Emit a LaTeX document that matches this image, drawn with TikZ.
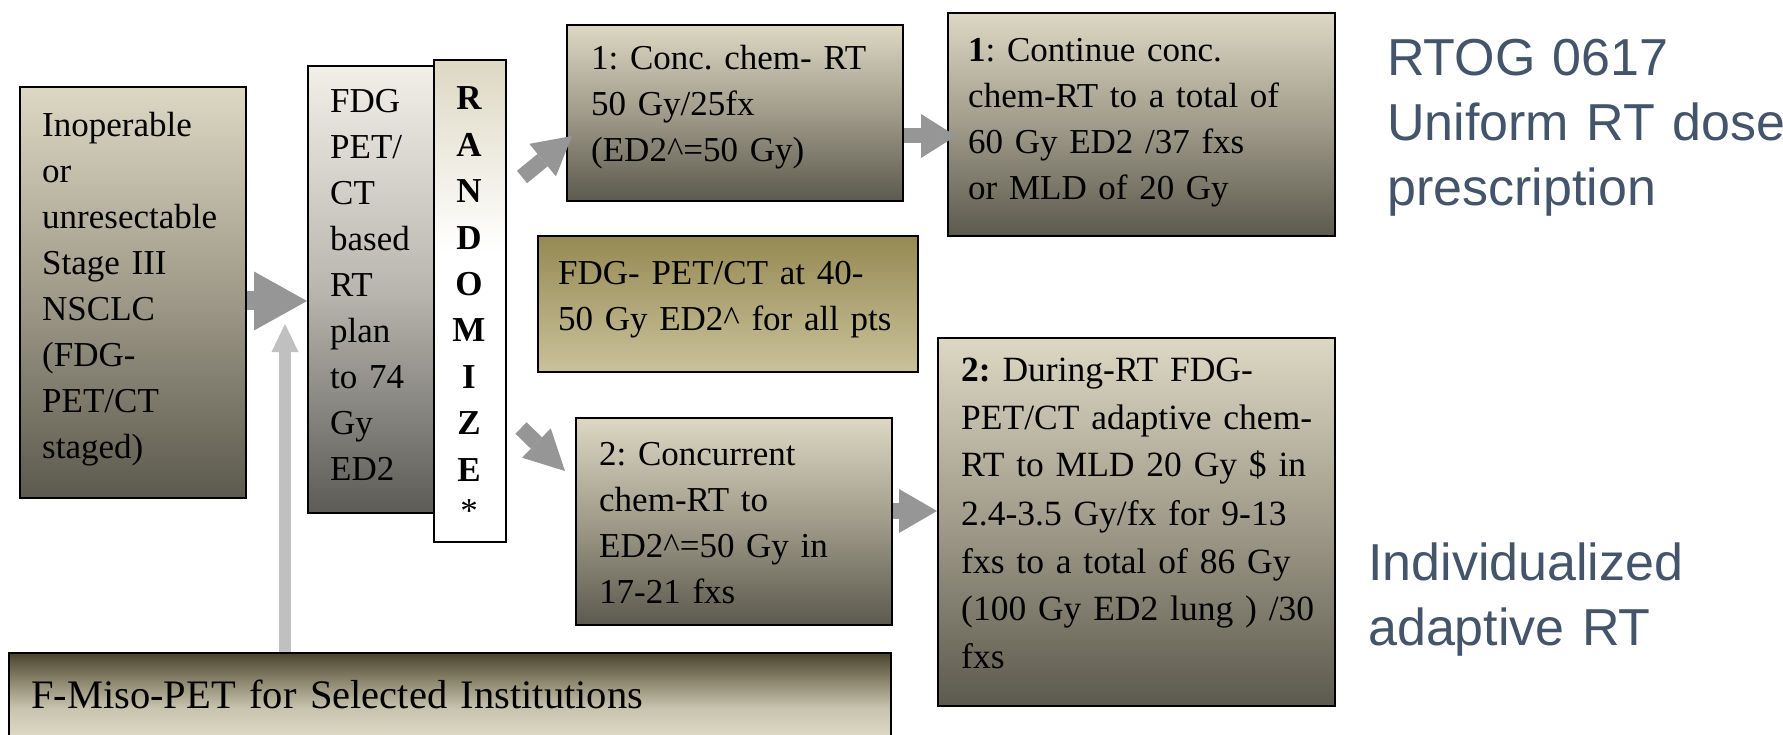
\documentclass[tikz,border=0pt]{standalone}
\usepackage{fontspec}
\setmainfont{Liberation Serif}
\newfontfamily\arialfont{Liberation Sans}
\usetikzlibrary{arrows.meta}
\frenchspacing
\definecolor{arrowgray}{RGB}{150,150,150}
\definecolor{lightarrow}{RGB}{192,192,192}
\definecolor{sidetext}{RGB}{68,84,106}
\definecolor{bLight}{RGB}{221,216,195}
\definecolor{bMid}{RGB}{160,155,138}
\definecolor{bDark}{RGB}{92,90,78}
\definecolor{pTop}{RGB}{241,239,231}
\definecolor{pMid}{RGB}{184,182,174}
\definecolor{pBot}{RGB}{92,91,86}
\definecolor{oTop}{RGB}{150,138,83}
\definecolor{oBot}{RGB}{201,193,155}
\definecolor{fTop}{RGB}{74,67,46}
\definecolor{fMid}{RGB}{142,136,112}
\definecolor{fLow}{RGB}{200,195,174}
\pgfdeclareverticalshading{stdbox}{100bp}{color(0bp)=(bDark); color(25bp)=(bDark); color(50bp)=(bMid); color(75bp)=(bLight); color(100bp)=(bLight)}
\pgfdeclareverticalshading{planbox}{100bp}{color(0bp)=(pBot); color(25bp)=(pBot); color(50bp)=(pMid); color(75bp)=(pTop); color(100bp)=(pTop)}
\pgfdeclareverticalshading{randbox}{100bp}{color(0bp)=(white); color(25bp)=(white); color(55bp)=(white); color(75bp)=(bLight); color(100bp)=(bLight)}
\pgfdeclareverticalshading{olivebox}{100bp}{color(0bp)=(oBot); color(25bp)=(oBot); color(75bp)=(oTop); color(100bp)=(oTop)}
\pgfdeclareverticalshading{fmisobox}{100bp}{color(0bp)=(bLight); color(44bp)=(bLight); color(54bp)=(fLow); color(64bp)=(fMid); color(75bp)=(fTop); color(100bp)=(fTop)}
\begin{document}
\begin{tikzpicture}[x=1pt,y=-1pt,
  box/.style={draw=black, line width=2.2pt, inner sep=0pt, anchor=north west, shade, shading=#1},
  txt/.style={anchor=base west, inner sep=0pt, text width=800pt, align=left, font=\frenchspacing\fontsize{35}{46}\selectfont},
  txtwide/.style={anchor=base west, inner sep=0pt, text width=800pt, align=left, font=\frenchspacing\fontsize{35.5}{48}\selectfont},
  bigtxt/.style={anchor=base west, inner sep=0pt, text width=800pt, align=left, font=\frenchspacing\fontsize{40.5}{48}\selectfont},
  randtxt/.style={anchor=base, inner sep=0pt, text width=72pt, align=center, font=\bfseries\fontsize{35}{46.4}\selectfont},
  side/.style={anchor=base west, inner sep=0pt, text width=800pt, align=left, text=sidetext, font=\arialfont\fontsize{52}{65}\selectfont}
]
\useasboundingbox (0,0) rectangle (1783,735);

% boxes
\node[box=stdbox, minimum width=226pt, minimum height=411pt] (inop) at (19,86) {};
\node[box=planbox, minimum width=126pt, minimum height=447pt] (plan) at (307,65) {};
\node[box=randbox, minimum width=72pt, minimum height=482pt] (rand) at (433,59) {};
\node[box=stdbox, minimum width=336pt, minimum height=176pt] (c1) at (566,24) {};
\node[box=stdbox, minimum width=387pt, minimum height=223pt] (c1b) at (947,12) {};
\node[box=olivebox, minimum width=380pt, minimum height=136pt] (pet) at (537,235) {};
\node[box=stdbox, minimum width=316pt, minimum height=207pt] (c2) at (575,417) {};
\node[box=stdbox, minimum width=397pt, minimum height=368pt] (c2b) at (937,337) {};
\node[box=fmisobox, minimum width=882pt, minimum height=130pt] (fmiso) at (8,652) {};

% texts
\node[txt] (tinop) at (42,137) {Inoperable\\or\\unresectable\\Stage III\\NSCLC\\(FDG-\\PET/CT\\staged)};
\node[txt] (tplan) at (330,113) {FDG\\PET/\\CT\\based\\RT\\plan\\to 74\\Gy\\ED2};
\node[randtxt] (trand) at (469,110) {R\\A\\N\\D\\O\\M\\I\\Z\\E\\[-5pt]{\mdseries *}};
\node[txt] (tc1) at (591,70) {1: Conc. chem- RT\\50 Gy/25fx\\(ED2\textasciicircum=50 Gy)};
\node[txt] (tc1b) at (968,62) {\textbf{1}: Continue conc.\\chem-RT to a total of\\60 Gy ED2 /37 fxs\\or MLD of 20 Gy};
\node[txt] (tpet) at (558,285) {FDG- PET/CT at 40-\\50 Gy ED2\textasciicircum{} for all pts};
\node[txt] (tc2) at (599,465) {2: Concurrent\\chem-RT to\\ED2\textasciicircum=50 Gy in\\17-21 fxs};
\node[txtwide] (tc2b) at (961,381) {\textbf{2:} During-RT FDG-\\PET/CT adaptive chem-\\RT to MLD 20 Gy \$ in\\2.4-3.5 Gy/fx for 9-13\\fxs to a total of 86 Gy\\(100 Gy ED2 lung ) /30\\fxs};
\node[bigtxt] (tfm) at (31,708) {F-Miso-PET for Selected Institutions};

\node[side] (rtog) at (1387,76) {RTOG 0617\\Uniform RT dose\\prescription};
\node[side] (indiv) at (1368,580) {Individualized\\adaptive RT};

% arrows
\draw[arrowgray, line width=19pt, -{Triangle[length=53pt,width=59pt,line width=0pt]}] (inop.east |- 0,301) -- (plan.west |- 0,301);
\coordinate (lt) at (285,324);
\draw[lightarrow, line width=12pt, -{Triangle[length=28pt,width=27pt,line width=0pt]}] (fmiso.north -| lt) -- (lt);
\coordinate (u0) at (522,177);
\coordinate (u1) at (572,136);
\draw[arrowgray, line width=16pt, -{Triangle[length=38pt,width=42pt,line width=0pt]}] (u0) -- (u1);
\coordinate (d0) at (521,428);
\coordinate (d1) at (565,471);
\draw[arrowgray, line width=16pt, -{Triangle[length=40pt,width=41pt,line width=0pt]}] (d0) -- (d1);
\draw[arrowgray, line width=15pt, -{Triangle[length=35pt,width=44pt,line width=0pt]}, shorten >=-9pt] (c1.east |- 0,136) -- (c1b.west |- 0,136);
\draw[arrowgray, line width=16pt, -{Triangle[length=38pt,width=44pt,line width=0pt]}] (c2.east |- 0,511) -- (c2b.west |- 0,511);
\end{tikzpicture}
\end{document}
